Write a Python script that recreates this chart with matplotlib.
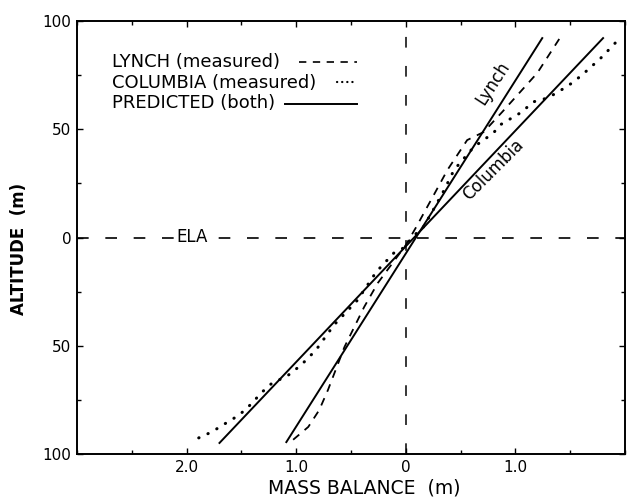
import matplotlib
matplotlib.use("Agg")
import matplotlib.pyplot as plt
from matplotlib.ticker import FixedLocator, MultipleLocator

plt.rcParams['font.family'] = ['DejaVu Sans']

# measured profiles (mass balance m, altitude m rel. ELA)
lynch_meas_x = [1.40, 1.20, 0.88, 0.71, 0.56, 0.38, 0.23, 0.09, 0.0, -0.255, -0.38, -0.56, -0.71, -0.79, -0.89, -1.03]
lynch_meas_y = [91.7, 76.0, 58.0, 48.7, 45.0, 31.2, 17.3, 4.4, -3.5, -21.0, -32.1, -50.6, -70.4, -79.7, -87.5, -93.5]

columbia_meas_x = [1.91, 1.79, 1.66, 1.53, 1.39, 1.29, 1.16, 1.06, 0.86, 0.80, 0.62, 0.44, 0.35, 0.25, 0.16, 0.07,
                   -0.02, -0.11, -0.27, -0.44, -0.655, -0.82, -0.955, -1.07, -1.23, -1.32, -1.41, -1.52, -1.64, -1.77, -1.93]
columbia_meas_y = [89.8, 83.4, 77.4, 71.8, 67.2, 64.4, 62.6, 58.0, 52.0, 48.3, 41.8, 31.2, 21.9, 12.7, 4.8, 0.7,
                   -4.8, -7.2, -15.9, -28.9, -40.4, -52.0, -58.9, -63.5, -67.7, -71.8, -76.9, -82.0, -85.7, -89.8, -93.5]

# predicted (straight lines)
lynch_pred_x = [1.245, -1.09]
lynch_pred_y = [92.1, -94.5]
columbia_pred_x = [1.80, -1.70]
columbia_pred_y = [92.1, -94.9]

x_ticks = [-2, -1, 0, 1]
x_ticklabels = ["2.0", "1.0", "0", "1.0"]
y_ticks = [-100, -50, 0, 50, 100]
y_ticklabels = ["100", "50", "0", "50", "100"]

fig = plt.figure(figsize=(6.27, 4.99), dpi=100)
ax = fig.add_axes([77/627, 45/499, 548/627, 433/499])

ax.set_xlim(-3, 2)
ax.set_ylim(-100, 100)

# reference lines (ELA and zero balance)
ax.axhline(0, color='black', lw=1.2, linestyle=(0, (7, 10)))
ax.axvline(0, color='black', lw=1.1, linestyle=(0, (7, 12)))
ax.text(-1.95, 0, "ELA", ha='center', va='center', fontsize=12,
        bbox=dict(facecolor='white', edgecolor='none', pad=1.5))

ax.plot(lynch_pred_x, lynch_pred_y, color='black', lw=1.4)
ax.plot(columbia_pred_x, columbia_pred_y, color='black', lw=1.4)
ax.plot(lynch_meas_x, lynch_meas_y, color='black', lw=1.3, linestyle=(0, (4.4, 3.9)))
ax.plot(columbia_meas_x, columbia_meas_y, color='black', lw=2.2,
        linestyle=(0, (0.1, 3.2)), dash_capstyle='round')

ax.text(0.79, 71.4, "Lynch", rotation=57, ha='center', va='center', fontsize=12,
        rotation_mode='anchor')
ax.text(0.80, 31.2, "Columbia", rotation=45, ha='center', va='center', fontsize=12,
        rotation_mode='anchor')

# hand-drawn style key
t = ax.transAxes
ax.text(0.064, 0.905, "LYNCH (measured)", transform=t, fontsize=13, va='center', ha='left')
ax.text(0.064, 0.857, "COLUMBIA (measured)", transform=t, fontsize=13, va='center', ha='left')
ax.text(0.064, 0.811, "PREDICTED (both)", transform=t, fontsize=13, va='center', ha='left')
ax.plot([0.405, 0.511], [0.905, 0.905], transform=t, color='black', lw=1.2, linestyle=(0, (4.4, 3.9)))
ax.plot([0.474, 0.511], [0.860, 0.860], transform=t, color='black', lw=1.6,
        linestyle=(0, (0.1, 2.2)), dash_capstyle='round')
ax.plot([0.380, 0.511], [0.808, 0.808], transform=t, color='black', lw=1.4)

ax.xaxis.set_major_locator(FixedLocator(x_ticks))
ax.set_xticklabels(x_ticklabels)
ax.xaxis.set_minor_locator(MultipleLocator(0.5))
ax.yaxis.set_major_locator(FixedLocator(y_ticks))
ax.set_yticklabels(y_ticklabels)
ax.yaxis.set_minor_locator(MultipleLocator(25))

ax.tick_params(which='both', direction='in', top=True, right=True, length=4, width=1,
               labelsize=11, pad=4)
ax.tick_params(which='minor', length=3)
for s in ax.spines.values():
    s.set_linewidth(1.4)

ax.set_xlabel("MASS BALANCE  (m)", fontsize=13.5)
ax.xaxis.set_label_coords((364 - 77) / 548, -(479 - 454) / 433)
ax.set_ylabel("ALTITUDE  (m)", fontsize=12, fontweight='bold')
ax.yaxis.set_label_coords(-(77 - 28) / 548, (454 - 249) / 433)

fig.savefig("out.png", dpi=100)
